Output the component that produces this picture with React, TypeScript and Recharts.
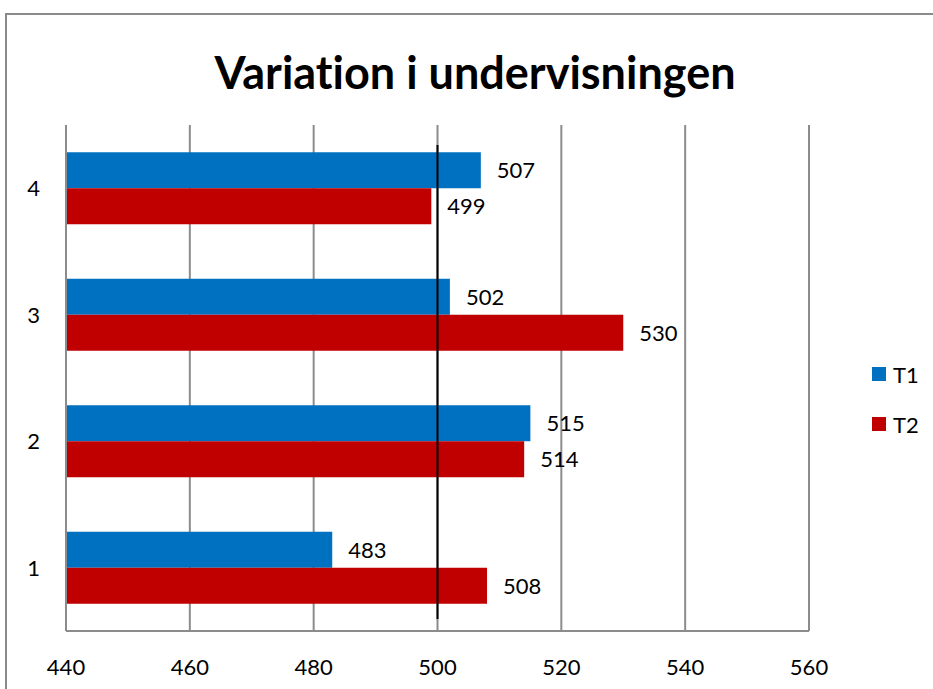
import React from 'react';
import {
  BarChart,
  Bar,
  XAxis,
  YAxis,
  CartesianGrid,
  ReferenceLine,
  LabelList,
} from 'recharts';

const categories = ['1', '2', '3', '4'];
const t1Values = [483, 515, 502, 507];
const t2Values = [508, 514, 530, 499];
const xTicks = [440, 460, 480, 500, 520, 540, 560];
const referenceValue = 500;
const seriesNames = ['T1', 'T2'];

const BLUE = '#0070C0';
const RED = '#C00000';
const GRID = '#8c8c8c';
const FONT = 'Lato, "Open Sans", sans-serif';

const data = categories.map((c, i) => ({ cat: c, T1: t1Values[i], T2: t2Values[i] }));

const TICK_STYLE = { fontSize: 22, fill: '#000', fontFamily: FONT };

function ShortLine(props: any) {
  const { x1, y1, x2, y2 } = props;
  const top = Math.min(y1, y2);
  const bottom = Math.max(y1, y2);
  return <line x1={x1} y1={top + 20} x2={x2} y2={bottom - 12} stroke="#000" strokeWidth={2} />;
}

function LegendBox() {
  const colors = [BLUE, RED];
  return (
    <div style={{ position: 'absolute', left: 872, top: 349, fontFamily: FONT, fontSize: 22 }}>
      {seriesNames.map((name, i) => (
        <div key={name} style={{ display: 'flex', alignItems: 'center', height: 50 }}>
          <span style={{ width: 14, height: 14, background: colors[i], display: 'inline-block', marginRight: 7 }} />
          <span>{name}</span>
        </div>
      ))}
    </div>
  );
}

export default function App() {
  return (
    <div style={{ position: 'absolute', left: 0, top: 0, width: 933, height: 689, background: '#fff', overflow: 'hidden' }}>
      <div
        style={{
          position: 'absolute',
          left: 5,
          top: 13,
          width: 940,
          height: 700,
          border: '2px solid #8a8a8a',
          boxSizing: 'border-box',
        }}
      />
      <div
        style={{
          position: 'absolute',
          top: 44,
          left: 5,
          width: 940,
          textAlign: 'center',
          fontFamily: FONT,
          fontWeight: 700,
          fontSize: 45,
          fontVariantLigatures: 'none',
          color: '#000',
          lineHeight: '56px',
        }}
      >
        Variation i undervisningen
      </div>
      <div style={{ position: 'absolute', left: 0, top: 0 }}>
        <BarChart
          width={933}
          height={689}
          data={data}
          layout="vertical"
          margin={{ top: 125, right: 124, bottom: 0, left: 16 }}
          barCategoryGap="21.5%"
          barGap={0}
        >
          <CartesianGrid horizontal={false} vertical stroke={GRID} strokeWidth={2} />
          <XAxis
            type="number"
            domain={[440, 560]}
            ticks={xTicks}
            interval={0}
            tick={TICK_STYLE}
            tickLine={false}
            axisLine={{ stroke: GRID, strokeWidth: 2 }}
            tickMargin={22}
            height={58}
          />
          <YAxis
            type="category"
            dataKey="cat"
            reversed
            width={50}
            tick={TICK_STYLE}
            tickLine={false}
            axisLine={{ stroke: GRID, strokeWidth: 2 }}
            tickMargin={20}
          />
          <Bar dataKey="T1" fill={BLUE} isAnimationActive={false}>
            <LabelList dataKey="T1" position="right" offset={16} style={TICK_STYLE} />
          </Bar>
          <Bar dataKey="T2" fill={RED} isAnimationActive={false}>
            <LabelList dataKey="T2" position="right" offset={16} style={TICK_STYLE} />
          </Bar>
          <ReferenceLine x={referenceValue} stroke="#000" strokeWidth={2} shape={ShortLine} />
        </BarChart>
      </div>
      <LegendBox />
    </div>
  );
}
